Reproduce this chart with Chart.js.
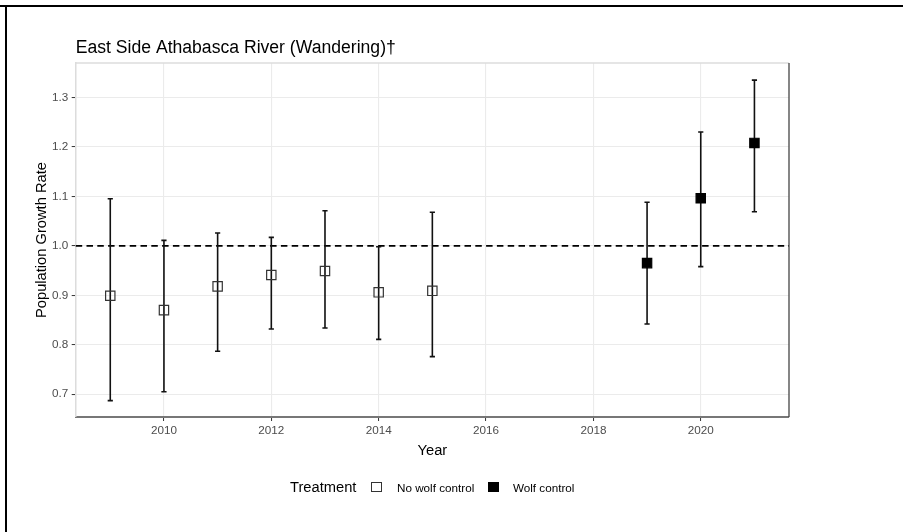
<!DOCTYPE html>
<html>
<head>
<meta charset="utf-8">
<script src="https://cdn.jsdelivr.net/npm/chart.js@4/dist/chart.umd.min.js"></script>
<style>
body { margin: 0; background: #fff; overflow: hidden; }
#wrap { position: relative; width: 903px; height: 532px; }
#chart { position: absolute; left: 0; top: 0; }
.frame { position: absolute; background: #000; }
#legend {
  position: absolute; left: 290px; top: 478px; height: 18px;
  display: flex; align-items: center;
  font-family: 'Liberation Sans', Arial, sans-serif; color: #000;
}
#legend .ttl { font-size: 14.7px; }
#legend .lbl { font-size: 11.7px; }
#legend .key { width: 8.6px; height: 8.6px; border: 1.2px solid #333; }
</style>
</head>
<body>
<div id="wrap">
<canvas id="chart" width="903" height="532"></canvas>
<div class="frame" style="left:0;top:5px;width:903px;height:2px"></div>
<div class="frame" style="left:5px;top:5px;width:2px;height:527px"></div>
<div id="legend">
  <span class="ttl">Treatment</span>
  <span class="key" style="margin-left:15px;background:#fff"></span>
  <span class="lbl" style="margin-left:15px">No wolf control</span>
  <span class="key" style="margin-left:14px;background:#000;border-color:#000"></span>
  <span class="lbl" style="margin-left:14px">Wolf control</span>
</div>
</div>
<script>
/* global Chart */

// Data
const YEARS = [2009, 2010, 2011, 2012, 2013, 2014, 2015, 2019, 2020, 2021];
const RATE  = [0.899, 0.870, 0.918, 0.941, 0.949, 0.906, 0.909, 0.965, 1.096, 1.208];
const LOWER = [0.687, 0.705, 0.787, 0.832, 0.834, 0.811, 0.776, 0.842, 0.958, 1.069];
const UPPER = [1.095, 1.011, 1.026, 1.017, 1.071, 0.998, 1.068, 1.088, 1.230, 1.335];
const TREATMENT = ['No wolf control', 'No wolf control', 'No wolf control', 'No wolf control',
  'No wolf control', 'No wolf control', 'No wolf control', 'Wolf control', 'Wolf control', 'Wolf control'];
const REF_VALUE = 1.0;

// Axes
const X_TICKS = [2010, 2012, 2014, 2016, 2018, 2020];
const Y_TICKS = [0.7, 0.8, 0.9, 1.0, 1.1, 1.2, 1.3];

const FONT = "'Liberation Sans', Arial, sans-serif";
Chart.defaults.font.family = FONT;

function pointsFor(group) {
  let pts = [];
  for (let i = 0; i < YEARS.length; i++) {
    if (TREATMENT[i] === group) pts.push({ x: YEARS[i], y: RATE[i] });
  }
  return pts;
}

// dashed line at 1.0 and the error bars, drawn under the points
const errorBars = {
  id: 'errorBars',
  beforeDatasetsDraw(chart) {
    const ctx = chart.ctx;
    const xs = chart.scales.x;
    const ys = chart.scales.y;
    const area = chart.chartArea;

    ctx.save();
    // panel edges that the axes do not draw
    ctx.strokeStyle = '#DCDCDC';
    ctx.lineWidth = 1.5;
    ctx.beginPath();
    ctx.moveTo(area.left, area.top);
    ctx.lineTo(area.right, area.top);
    ctx.stroke();
    ctx.strokeStyle = '#444';
    ctx.lineWidth = 1.3;
    ctx.beginPath();
    ctx.moveTo(area.right, area.top);
    ctx.lineTo(area.right, area.bottom);
    ctx.stroke();

    // reference line
    let yRef = ys.getPixelForValue(REF_VALUE);
    ctx.strokeStyle = '#000';
    ctx.lineWidth = 1.8;
    ctx.setLineDash([6.5, 4.3]);
    ctx.beginPath();
    ctx.moveTo(area.left, yRef);
    ctx.lineTo(area.right, yRef);
    ctx.stroke();
    ctx.setLineDash([]);

    // error bars
    ctx.strokeStyle = '#111';
    ctx.lineWidth = 1.6;
    const cap = 2.6;
    for (let i = 0; i < YEARS.length; i++) {
      let x = xs.getPixelForValue(YEARS[i]);
      let yLo = ys.getPixelForValue(LOWER[i]);
      let yHi = ys.getPixelForValue(UPPER[i]);
      ctx.beginPath();
      ctx.moveTo(x, yHi);
      ctx.lineTo(x, yLo);
      ctx.moveTo(x - cap, yHi);
      ctx.lineTo(x + cap, yHi);
      ctx.moveTo(x - cap, yLo);
      ctx.lineTo(x + cap, yLo);
      ctx.stroke();
    }
    ctx.restore();
  }
};

const tickFont = { family: FONT, size: 11.7 };
const titleFont = { family: FONT, size: 14.7 };

let ctx = document.getElementById('chart').getContext('2d');
let chart = new Chart(ctx, {
  type: 'scatter',
  data: {
    datasets: [{
      label: 'No wolf control',
      data: pointsFor('No wolf control'),
      pointStyle: 'rect',
      pointRadius: 6.6,
      borderWidth: 1.2,
      borderColor: '#333',
      backgroundColor: 'rgba(0,0,0,0)'
    }, {
      label: 'Wolf control',
      data: pointsFor('Wolf control'),
      pointStyle: 'rect',
      pointRadius: 6.6,
      borderWidth: 1.2,
      borderColor: '#000',
      backgroundColor: '#000'
    }]
  },
  options: {
    responsive: false,
    animation: false,
    devicePixelRatio: 1,
    layout: { padding: { top: 0, left: 0, right: 114, bottom: 70 } },
    plugins: {
      legend: { display: false },
      tooltip: { enabled: false },
      title: {
        display: true,
        text: 'East Side Athabasca River (Wandering)\u2020',
        align: 'start',
        fullSize: false,
        color: '#000',
        font: { family: FONT, size: 17.6, weight: 'normal' },
        padding: { top: 37.3, bottom: 4.6 }
      }
    },
    scales: {
      x: {
        type: 'linear',
        min: 2008.356,
        max: 2021.644,
        afterBuildTicks: s => { s.ticks = X_TICKS.map(v => ({ value: v })); },
        afterFit: s => { s.height = 45; },
        ticks: {
          callback: v => String(v),
          color: '#4D4D4D',
          font: tickFont,
          padding: 2.8
        },
        grid: { color: '#EBEBEB', lineWidth: 1.1, tickLength: 4, tickColor: '#333', tickWidth: 1 },
        border: { color: '#777', width: 2 },
        title: { display: true, text: 'Year', color: '#000', font: titleFont, padding: { top: 0, bottom: 2.2 } }
      },
      y: {
        type: 'linear',
        min: 0.654,
        max: 1.3695,
        afterBuildTicks: s => { s.ticks = Y_TICKS.map(v => ({ value: v })); },
        afterFit: s => { s.width = 75.7; },
        ticks: {
          callback: v => v.toFixed(1),
          color: '#4D4D4D',
          font: tickFont,
          padding: 3.4
        },
        grid: { color: '#EBEBEB', lineWidth: 1.1, tickLength: 4, tickColor: '#333', tickWidth: 1 },
        border: { color: '#DCDCDC', width: 1.5 },
        title: { display: true, text: 'Population Growth Rate', color: '#000', font: titleFont, padding: { top: 33.3, bottom: 0 } }
      }
    }
  },
  plugins: [errorBars]
});
</script>
</body>
</html>
